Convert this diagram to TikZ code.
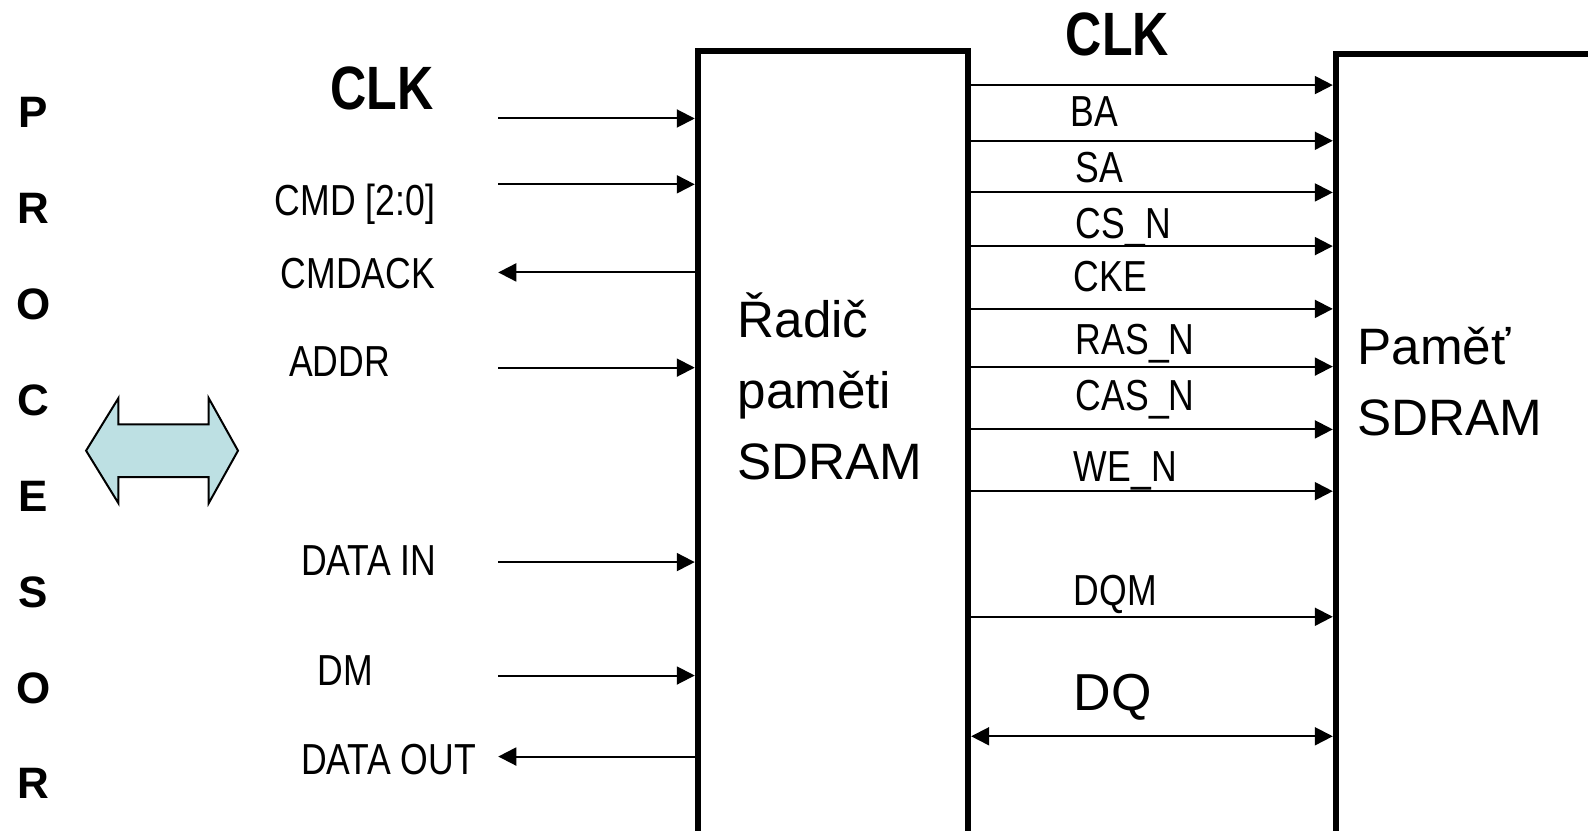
\documentclass[tikz,border=0pt]{standalone}
\usepackage{fontspec}
\setmainfont{Liberation Sans}
\newfontfamily\narrowfont{Liberation Sans}[FakeStretch=0.82]
\usetikzlibrary{arrows.meta}

\tikzset{
  >={Triangle[length=9pt,width=9pt]},
  block/.style={draw, line width=3pt, anchor=north west, inner sep=0pt},
  sig/.style={line width=1pt, ->},
  sigtext/.style={inner sep=0pt, anchor=base west, font=\narrowfont\fontsize{21.7pt}{26pt}\selectfont},
  clktext/.style={inner sep=0pt, anchor=base west, font=\narrowfont\bfseries\fontsize{30.6pt}{34pt}\selectfont},
  blocktext/.style={inner sep=0pt, anchor=base west, align=left, font=\fontsize{25.6pt}{35.4pt}\selectfont},
  cpuletter/.style={inner sep=0pt, anchor=base, font=\bfseries\fontsize{22pt}{26pt}\selectfont},
}

\begin{document}
\begin{tikzpicture}[x=0.50638pt, y=-0.50638pt]
\useasboundingbox (0,0) rectangle (1568,820.5);

% procesor
\foreach \ch [count=\i from 0] in {P,R,O,C,E,S,O,R}
  \node[cpuletter] (cpu\i) at (33,{126+94.7*\i}) {\ch};
\draw[line width=1pt, fill={rgb,255:red,189;green,224;blue,227}]
  (85,445) -- (117,393) -- (117,419) -- (206,419) -- (206,393) -- (235,445)
  -- (206,497) -- (206,471) -- (117,471) -- (117,497) -- cycle;

% bloky
\node[block, minimum width=135.2pt, minimum height=420pt] (ctrl) at (686,47) {};
\node[block, minimum width=160pt, minimum height=420pt] (mem) at (1316,50) {};
\node[blocktext] (ctrltext) at (728,473) {Řadič\\paměti\\SDRAM};
\node[blocktext] (memtext) at (1340,430) {Paměť\\SDRAM};

% vstupy a vystupy radice
\coordinate (clkin) at (492,117);
\coordinate (cmd) at (492,182);
\coordinate (cmdack) at (492,269);
\coordinate (addr) at (492,363);
\coordinate (datain) at (492,555);
\coordinate (dm) at (492,667);
\coordinate (dataout) at (492,747);

\node[clktext] (clkinl) at (326,108) {CLK};
\node[sigtext] (cmdl) at (271,213) {CMD [2:0]};
\node[sigtext] (cmdackl) at (277,285) {CMDACK};
\node[sigtext] (addrl) at (285,372) {ADDR};
\node[sigtext] (datainl) at (297,568) {DATA IN};
\node[sigtext] (dml) at (313,677) {DM};
\node[sigtext] (dataoutl) at (297,765) {DATA OUT};

\foreach \c in {clkin,cmd,addr,datain,dm}
  \draw[sig] (\c) -- (\c -| ctrl.west);
\foreach \c in {cmdack,dataout}
  \draw[sig] (\c -| ctrl.west) -- (\c);

% signaly k pameti
\foreach \y in {84,139,190,243,305,362,424,485,609}
  \draw[sig] (ctrl.east |- 0,\y) -- (mem.west |- 0,\y);
\draw[sig, <->] (ctrl.east |- 0,727) -- (mem.west |- 0,727);

\node[clktext] (clkoutl) at (1052,55) {CLK};
\node[sigtext] (bal) at (1057,125) {BA};
\node[sigtext] (sal) at (1062,180) {SA};
\node[sigtext] (csl) at (1062,235) {CS\_N};
\node[sigtext] (ckel) at (1060,288) {CKE};
\node[sigtext] (rasl) at (1062,350) {RAS\_N};
\node[sigtext] (casl) at (1062,405) {CAS\_N};
\node[sigtext] (wel) at (1060,475) {WE\_N};
\node[sigtext] (dqml) at (1060,598) {DQM};
\node[inner sep=0pt, anchor=base west, font=\fontsize{26pt}{30pt}\selectfont] (dql) at (1060,702) {DQ};
\end{tikzpicture}
\end{document}
